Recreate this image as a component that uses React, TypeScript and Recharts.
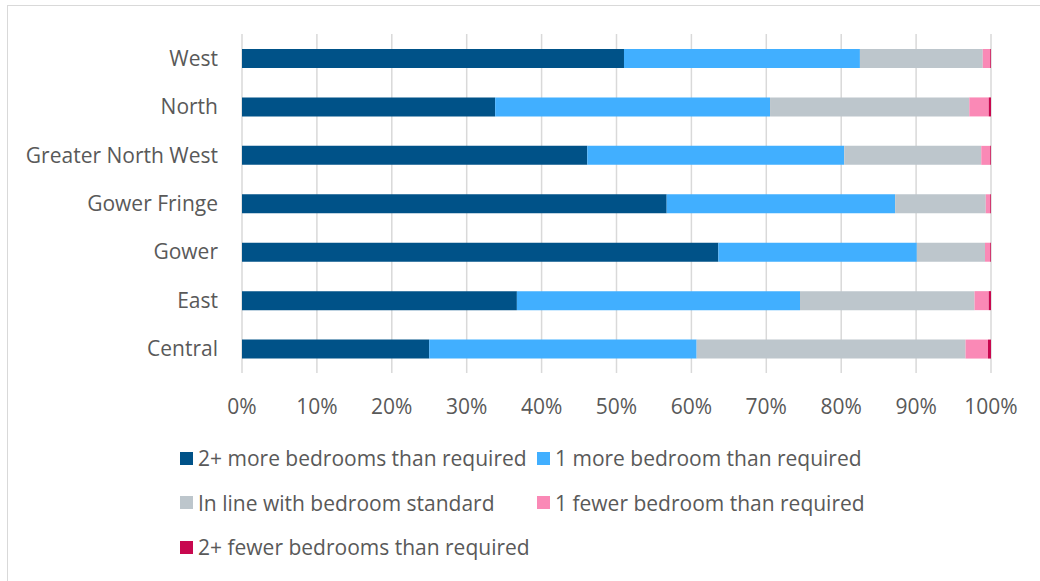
import React from "react";
import {
  BarChart,
  Bar,
  XAxis,
  YAxis,
  CartesianGrid,
} from "recharts";

const areas = [
  "West",
  "North",
  "Greater North West",
  "Gower Fringe",
  "Gower",
  "East",
  "Central",
];

const twoPlusMore = [51.0, 33.8, 46.1, 56.7, 63.6, 36.7, 25.0];
const oneMore = [31.5, 36.7, 34.3, 30.5, 26.5, 37.8, 35.7];
const inLine = [16.4, 26.6, 18.3, 12.1, 9.1, 23.3, 35.9];
const oneFewer = [1.0, 2.6, 1.2, 0.6, 0.7, 1.9, 3.0];
const twoPlusFewer = [0.1, 0.3, 0.1, 0.1, 0.1, 0.3, 0.4];

const xTicks = [0, 10, 20, 30, 40, 50, 60, 70, 80, 90, 100];

const SERIES = [
  { key: "twoPlusMore", name: "2+ more bedrooms than required", color: "#005288" },
  { key: "oneMore", name: "1 more bedroom than required", color: "#41AFFF" },
  { key: "inLine", name: "In line with bedroom standard", color: "#BDC6CC" },
  { key: "oneFewer", name: "1 fewer bedroom than required", color: "#FA89B6" },
  { key: "twoPlusFewer", name: "2+ fewer bedrooms than required", color: "#C8084F" },
];

const data = areas.map((area, i) => ({
  area,
  twoPlusMore: twoPlusMore[i],
  oneMore: oneMore[i],
  inLine: inLine[i],
  oneFewer: oneFewer[i],
  twoPlusFewer: twoPlusFewer[i],
}));

const FONT = "'Open Sans', Lato, sans-serif";
const TEXT = "#595959";
const FS = 21;

const LegendBlock = () => (
  <div
    style={{
      position: "absolute",
      left: 172,
      top: 439,
      display: "grid",
      gridTemplateColumns: "357px 340px",
      rowGap: 18.5,
      fontFamily: FONT,
      fontSize: FS,
      color: TEXT,
    }}
  >
    {SERIES.map((s) => (
      <div key={s.key} style={{ display: "flex", alignItems: "center", height: 26 }}>
        <span
          style={{
            display: "inline-block",
            width: 13,
            height: 13,
            background: s.color,
            marginRight: 5,
          }}
        />
        <span style={{ whiteSpace: "nowrap" }}>{s.name}</span>
      </div>
    ))}
  </div>
);

export default function App() {
  return (
    <div
      style={{
        position: "absolute",
        left: 7,
        top: 5,
        width: 1040,
        height: 600,
        border: "1px solid #d9d9d9",
        background: "#fff",
      }}
    >
      <BarChart
        width={1030}
        height={427}
        data={data}
        layout="vertical"
        barSize={19}
        margin={{ top: 28, right: 47, left: 0, bottom: 0 }}
      >
        <CartesianGrid horizontal={false} stroke="#d9d9d9" strokeWidth={1.5} />
        <XAxis
          type="number"
          domain={[0, 100]}
          ticks={xTicks}
          tickFormatter={(v) => `${v}%`}
          axisLine={false}
          tickLine={false}
          tickSize={0}
          tickMargin={26}
          height={60}
          interval={0}
          tick={{ fill: TEXT, fontSize: FS, fontFamily: FONT }}
        />
        <YAxis
          type="category"
          dataKey="area"
          width={234}
          axisLine={false}
          tickLine={false}
          tickSize={0}
          tickMargin={24}
          interval={0}
          tick={{ fill: TEXT, fontSize: FS, fontFamily: FONT }}
        />
        {SERIES.map((s) => (
          <Bar
            key={s.key}
            dataKey={s.key}
            name={s.name}
            stackId="a"
            fill={s.color}
            isAnimationActive={false}
          />
        ))}
      </BarChart>
      <LegendBlock />
    </div>
  );
}
